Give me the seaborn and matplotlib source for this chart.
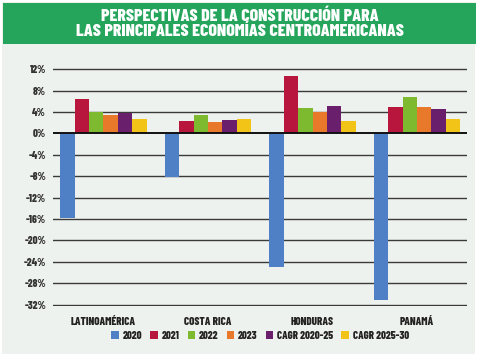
import matplotlib
matplotlib.use("Agg")
import matplotlib.pyplot as plt
import seaborn as sns
import pandas as pd
from matplotlib.patches import Rectangle

categories = ["LATINOAMÉRICA", "COSTA RICA", "HONDURAS", "PANAMÁ"]
series = ["2020", "2021", "2022", "2023", "CAGR 2020-25", "CAGR 2025-30"]
v2020 = [-15.8, -8.1, -25.0, -31.1]
v2021 = [6.4, 2.3, 10.7, 4.9]
v2022 = [4.0, 3.4, 4.7, 6.8]
v2023 = [3.4, 2.1, 4.1, 4.9]
cagr_20_25 = [3.8, 2.5, 5.1, 4.5]
cagr_25_30 = [2.7, 2.7, 2.4, 2.7]
yticks = [12, 8, 4, 0, -4, -8, -12, -16, -20, -24, -28, -32]
title = "PERSPECTIVAS DE LA CONSTRUCCIÓN PARA\nLAS PRINCIPALES ECONOMÍAS CENTROAMERICANAS"

colors = ["#4f80c6", "#b8163c", "#7dba2f", "#e8782a", "#6a1f6d", "#f2c418"]

rows = []
for s, vals in zip(series, [v2020, v2021, v2022, v2023, cagr_20_25, cagr_25_30]):
    for c, v in zip(categories, vals):
        rows.append({"cat": c, "serie": s, "val": v})
df = pd.DataFrame(rows)

FONT = ["Barlow Condensed", "DejaVu Sans"]
plt.rcParams["font.family"] = FONT

fig = plt.figure(figsize=(4.8, 3.62), dpi=100, facecolor="white")
W, H = 480, 362
fig.patches.append(Rectangle((2 / W, 1 - 354 / H), 473 / W, 352 / H, transform=fig.transFigure,
                             facecolor="#eef2ee", edgecolor="none", zorder=-2))
fig.patches.append(Rectangle((3 / W, 1 - 44 / H), 473 / W, 41 / H, transform=fig.transFigure,
                             facecolor="#25a55b", edgecolor="none", zorder=-1))
fig.text(240 / W, 1 - 24 / H, title, ha="center", va="center", color="white",
         fontsize=12.8, fontweight=800, linespacing=0.92, family=FONT)

ax = fig.add_axes([53 / W, 0.1539, 414 / W, 0.6665])
ax.set_facecolor("none")
sns.barplot(data=df, x="cat", y="val", hue="serie", order=categories, hue_order=series,
            palette=colors, width=0.83, saturation=1, ax=ax, legend=True, zorder=3)

ax.set_xlim(-0.483, 3.478)
ax.set_ylim(-32.3, 12.8)
ax.set_yticks(yticks)
ax.set_yticklabels([f"{t}%" for t in yticks])
for t in yticks:
    lw = 1.4 if t == 0 else 1.0
    col = "#111111" if t == 0 else "#3a3a3a"
    ax.axhline(t, color=col, lw=lw, zorder=4 if t == 0 else 1)
for sp in ax.spines.values():
    sp.set_visible(False)
ax.tick_params(axis="y", length=0, pad=5, labelsize=7.8, labelcolor="#333333")
ax.tick_params(axis="x", length=0, pad=8, labelsize=8, labelcolor="#222222")
for lab in ax.get_xticklabels() + ax.get_yticklabels():
    lab.set_fontweight(800)
ax.set_xlabel("")
ax.set_ylabel("")

handles, labels = ax.get_legend_handles_labels()
ax.legend(handles, labels, loc="center", bbox_to_anchor=(260 / W, 1 - 336 / H),
          bbox_transform=fig.transFigure, ncol=6, frameon=False,
          prop={"weight": 800, "size": 7.8, "family": FONT},
          handlelength=0.7, handleheight=0.7, handletextpad=0.35, columnspacing=0.75,
          labelcolor="#222222")

fig.savefig("out.png", dpi=100, facecolor="white")
